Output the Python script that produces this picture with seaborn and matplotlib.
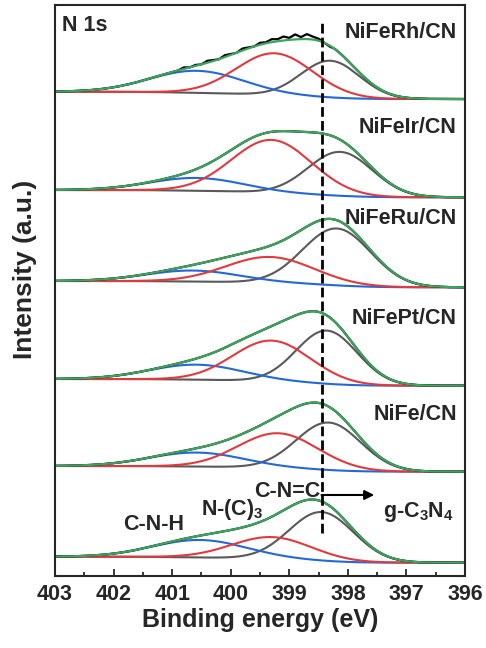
import numpy as np
import pandas as pd
import seaborn as sns
import matplotlib
matplotlib.use("Agg")
import matplotlib.pyplot as plt

sns.set_style("ticks")
plt.rcParams['font.family'] = ['Liberation Sans', 'DejaVu Sans']
plt.rcParams['font.weight'] = 'bold'
plt.rcParams['mathtext.fontset'] = 'custom'
plt.rcParams['mathtext.rm'] = 'Liberation Sans:bold'
plt.rcParams['mathtext.it'] = 'Liberation Sans:bold'
plt.rcParams['mathtext.bf'] = 'Liberation Sans:bold'
plt.rcParams['mathtext.default'] = 'rm'

# samples from bottom to top
samples = ["g-C$_3$N$_4$", "NiFe/CN", "NiFePt/CN", "NiFeRu/CN", "NiFeIr/CN", "NiFeRh/CN"]
# background level (a.u.) at 403 eV and at 396 eV
base_left = [19.0, 109.7, 196.7, 294.7, 385.7, 484.0]
base_right = [13.0, 104.0, 190.0, 288.4, 378.4, 476.7]
# fitted peaks: C-N=C (grey), N-(C)3 (red), C-N-H (blue)
cnc_pos = [398.45, 398.33, 398.36, 398.19, 398.13, 398.30]
cnc_amp = [49.0, 47.7, 53.5, 57.0, 44.0, 37.0]
cnc_sig = [0.55, 0.55, 0.52, 0.58, 0.55, 0.50]
nc3_pos = [399.30, 399.19, 399.30, 399.33, 399.30, 399.25]
nc3_amp = [22.0, 35.0, 41.0, 26.0, 53.0, 42.0]
nc3_sig = [0.68, 0.68, 0.66, 0.75, 0.68, 0.65]
cnh_pos = [400.52, 400.58, 400.58, 400.64, 400.58, 400.58]
cnh_amp = [17.5, 14.0, 15.0, 11.0, 12.7, 22.0]
cnh_sig = [0.80, 0.80, 0.80, 0.80, 0.80, 0.80]
# raw spectrum of NiFeRh/CN where it departs from the fit (a.u. above envelope)
rh_raw_e = [400.9, 400.8, 400.7, 400.6, 400.5, 400.4, 400.3, 400.2, 400.1, 400.0,
            399.9, 399.8, 399.7, 399.6, 399.5, 399.4, 399.3, 399.2, 399.1, 399.0,
            398.9, 398.8, 398.7, 398.6, 398.5, 398.4, 398.3]
rh_raw_dy = [0, 1.5, 0, 1, 0, 2, 1, 0, 2, 1, 0, 2, 1, 0, 2, 1, 3, 2, 4, 2, 5, 2, 5, 3, 2, 0, -1]

GREY, RED, BLUE, GREEN = '#595959', '#E0393E', '#2468D8', '#3DA35D'

E = np.linspace(396, 403, 701)


def gauss(x, c, a, s):
    return a * np.exp(-(x - c) ** 2 / (2 * s ** 2))


fig = plt.figure(figsize=(4.86, 6.48), dpi=100)
ax = fig.add_axes([0.1132, 0.1116, 0.8436, 0.8814])

for i, name in enumerate(samples):
    g = gauss(E, cnc_pos[i], cnc_amp[i], cnc_sig[i])
    r = gauss(E, nc3_pos[i], nc3_amp[i], nc3_sig[i])
    b = gauss(E, cnh_pos[i], cnh_amp[i], cnh_sig[i])
    tot = g + r + b
    # Shirley-like step background
    cum = np.cumsum(tot)
    bg = base_right[i] + (base_left[i] - base_right[i]) * cum / cum[-1]
    df = pd.DataFrame({'E': E, 'grey': bg + g, 'red': bg + r, 'blue': bg + b, 'fit': bg + tot})
    if i == 5:
        re = np.array(rh_raw_e)
        rb = base_right[i] + (base_left[i] - base_right[i]) * np.interp(re, E, cum) / cum[-1]
        rv = rb + gauss(re, cnc_pos[i], cnc_amp[i], cnc_sig[i]) \
            + gauss(re, nc3_pos[i], nc3_amp[i], nc3_sig[i]) \
            + gauss(re, cnh_pos[i], cnh_amp[i], cnh_sig[i]) + np.array(rh_raw_dy)
        raw = pd.concat([df.loc[df.E < 398.25, ['E', 'fit']],
                         pd.DataFrame({'E': re, 'fit': rv}),
                         df.loc[df.E > 400.95, ['E', 'fit']]]).sort_values('E')
    else:
        raw = df[['E', 'fit']]
    sns.lineplot(data=df, x='E', y='grey', color=GREY, lw=1.5, estimator=None, ax=ax)
    sns.lineplot(data=df, x='E', y='blue', color=BLUE, lw=1.5, estimator=None, ax=ax)
    sns.lineplot(data=df, x='E', y='red', color=RED, lw=1.5, estimator=None, ax=ax)
    sns.lineplot(data=raw, x='E', y='fit', color='black', lw=1.6, estimator=None, ax=ax)
    sns.lineplot(data=df, x='E', y='fit', color=GREEN, lw=1.6, estimator=None, ax=ax)

# sample labels
label_y = [None, 160.7, 257.7, 357.7, 448.7, 543.7]
for i, name in enumerate(samples):
    if label_y[i] is not None:
        ax.text(396.14, label_y[i], name, ha='right', va='center', fontsize=15.5, fontweight='bold')

ax.text(402.88, 550.7, 'N 1s', ha='left', va='center', fontsize=15.5, fontweight='bold')
ax.text(397.40, 59.0, samples[0], ha='left', va='baseline', fontsize=15.5, fontweight='bold')
ax.text(399.04, 79.0, 'C-N=C', ha='center', va='baseline', fontsize=15.5, fontweight='bold')
ax.text(400.50, 60.7, 'N-(C)$_3$', ha='left', va='baseline', fontsize=15.5, fontweight='bold')
ax.text(401.84, 45.7, 'C-N-H', ha='left', va='baseline', fontsize=15.5, fontweight='bold')

ax.plot([398.45, 398.45], [42.7, 554], color='black', lw=2, dashes=(3.5, 1.5))
ax.annotate('', xy=(397.55, 80.7), xytext=(398.45, 80.7),
            arrowprops=dict(arrowstyle='-|>', color='black', lw=1.5, mutation_scale=14,
                            shrinkA=0, shrinkB=0))

ax.set_xlim(403, 396)
ax.set_ylim(0, 571.2)
ax.set_yticks([])
ax.set_xticks(np.arange(403, 395.5, -1))
ax.set_xticks(np.arange(402.5, 396, -1), minor=True)
ax.tick_params(axis='x', which='major', direction='in', length=5, width=1.3,
               labelsize=15.5, pad=6)
ax.tick_params(axis='x', which='minor', direction='in', length=3, width=1.3)
for lab in ax.get_xticklabels():
    lab.set_fontweight('bold')
for sp in ax.spines.values():
    sp.set_linewidth(1.5)
    sp.set_visible(True)
ax.set_xlabel('Binding energy (eV)', fontsize=18, fontweight='bold', labelpad=2)
ax.set_ylabel('Intensity (a.u.)', fontsize=19, fontweight='bold')
ax.yaxis.set_label_coords(-0.045, 0.537)

fig.savefig('out.png', dpi=100)
